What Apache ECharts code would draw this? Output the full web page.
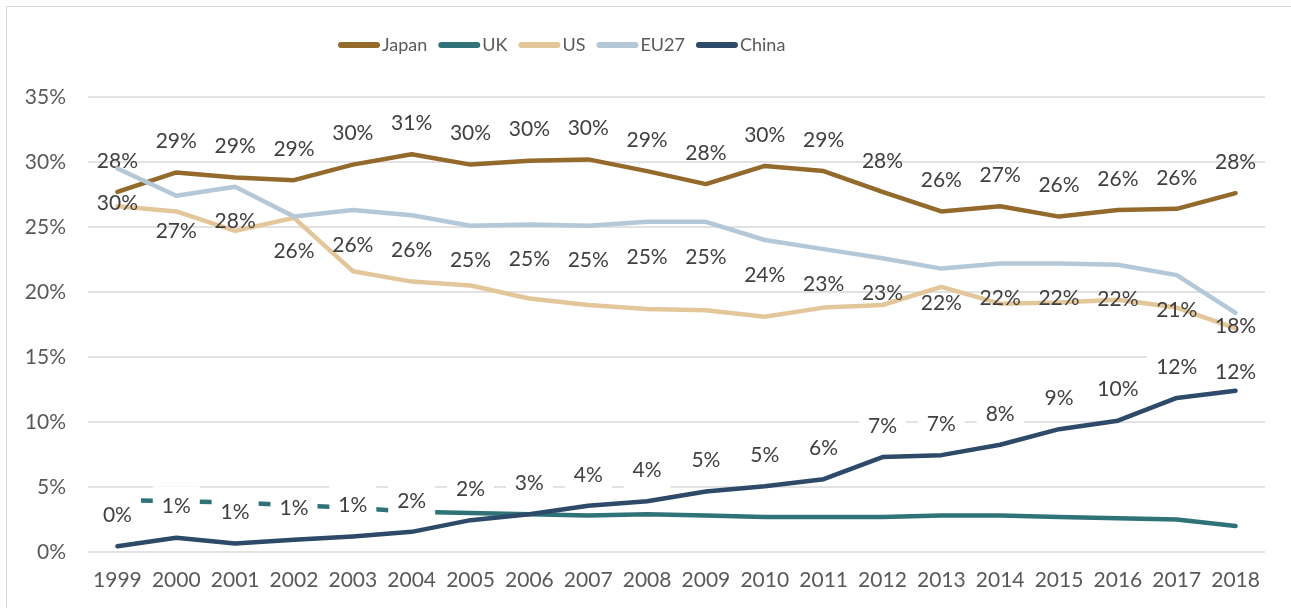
<!DOCTYPE html>
<html>
<head>
<meta charset="utf-8">
<script src="https://cdn.jsdelivr.net/npm/echarts@6/dist/echarts.min.js"></script>
<style>
  html, body { margin: 0; padding: 0; background: #fff; overflow: hidden; }
  #frame { position: absolute; left: 6px; top: 6px; width: 1400px; height: 700px; border: 1px solid #d9d9d9; }
  #chart { position: absolute; left: 0; top: 0; width: 1291px; height: 608px; }
</style>
</head>
<body>
<div id="frame"></div>
<div id="chart"></div>
<script>
// data (percent)
var years = ['1999', '2000', '2001', '2002', '2003', '2004', '2005', '2006', '2007', '2008',
             '2009', '2010', '2011', '2012', '2013', '2014', '2015', '2016', '2017', '2018'];
var japan = [27.7, 29.2, 28.8, 28.6, 29.8, 30.6, 29.8, 30.1, 30.2, 29.3,
             28.3, 29.7, 29.3, 27.7, 26.2, 26.6, 25.8, 26.3, 26.4, 27.6];
var uk    = [4.0, 3.9, 3.8, 3.6, 3.4, 3.1, 3.0, 2.9, 2.8, 2.9,
             2.8, 2.7, 2.7, 2.7, 2.8, 2.8, 2.7, 2.6, 2.5, 2.0];
var us    = [26.6, 26.2, 24.7, 25.7, 21.6, 20.8, 20.5, 19.5, 19.0, 18.7,
             18.6, 18.1, 18.8, 19.0, 20.4, 19.1, 19.2, 19.4, 18.8, 17.2];
var eu27  = [29.5, 27.4, 28.1, 25.8, 26.3, 25.9, 25.1, 25.2, 25.1, 25.4,
             25.4, 24.0, 23.3, 22.6, 21.8, 22.2, 22.2, 22.1, 21.3, 18.4];
var china = [0.45, 1.1, 0.65, 0.95, 1.2, 1.55, 2.45, 2.9, 3.55, 3.9,
             4.65, 5.05, 5.6, 7.3, 7.45, 8.25, 9.45, 10.1, 11.85, 12.4];
var yTicks = [0, 5, 10, 15, 20, 25, 30, 35];

var font = 'Lato';
var pct = function (p) { return Math.round(p.value) + '%'; };

function lineSeries(name, data, color, z) {
  return {
    name: name,
    type: 'line',
    data: data,
    z: z,
    symbol: 'circle',
    symbolSize: 1,
    showSymbol: true,
    itemStyle: { color: color },
    lineStyle: { color: color, width: 4.5, cap: 'round', join: 'round' },
    emphasis: { disabled: true },
    label: { show: false }
  };
}

// last point gets its own label offset (label nudged like in the original)
function withLastOffset(arr, offset) {
  return arr.map(function (v, i) {
    return i === arr.length - 1 ? { value: v, label: { offset: offset } } : v;
  });
}

var labelBase = {
  show: true,
  position: 'inside',
  formatter: pct,
  color: '#404040',
  fontFamily: font,
  fontSize: 21
};

var sJapan = lineSeries('Japan', japan, '#946a2c', 2);
sJapan.label = Object.assign({}, labelBase, { offset: [0, -31] });

var sUk = lineSeries('UK', uk, '#2f7378', 2);
var sUs = lineSeries('US', us, '#e3c699', 2);

var sEu = lineSeries('EU27', withLastOffset(eu27, [0, 13]), '#b5c8d7', 4);
sEu.label = Object.assign({}, labelBase, { offset: [0, 35] });

// China: the line on top, its white-boxed labels in a separate layer under it
var sChina = lineSeries('China', china, '#2d4a68', 5);

var sChinaLabels = lineSeries('China labels', withLastOffset(china, [0, -19]), 'rgba(0,0,0,0)', 3);
sChinaLabels.lineStyle = { width: 0, color: 'rgba(0,0,0,0)' };
sChinaLabels.label = Object.assign({}, labelBase, {
  offset: [0, -31],
  backgroundColor: '#ffffff',
  padding: [10, 9]
});

var chart = echarts.init(document.getElementById('chart'));
chart.setOption({
  animation: false,
  textStyle: { fontFamily: font },
  legend: {
    left: 333,
    top: 31,
    itemWidth: 42,
    itemHeight: 6,
    itemGap: 11,
    icon: 'path://M3,0 H39 A3,3 0 0 1 39,6 H3 A3,3 0 0 1 3,0 Z',
    textStyle: { color: '#595959', fontFamily: font, fontSize: 18, padding: [0, 0, 0, -3] },
    data: ['Japan', 'UK', 'US', 'EU27', 'China']
  },
  grid: { left: 88, right: 26, top: 97, bottom: 56, containLabel: false },
  xAxis: {
    type: 'category',
    data: years,
    boundaryGap: true,
    axisLine: { show: false },
    axisTick: { show: false },
    axisLabel: { interval: 0, color: '#595959', fontFamily: font, fontSize: 21, margin: 18 }
  },
  yAxis: {
    type: 'value',
    min: yTicks[0],
    max: yTicks[yTicks.length - 1],
    interval: 5,
    axisLine: { show: false },
    axisTick: { show: false },
    axisLabel: { color: '#595959', fontFamily: font, fontSize: 21, margin: 22, formatter: '{value}%' },
    splitLine: { lineStyle: { color: '#d9d9d9', width: 1.5 } }
  },
  series: [sJapan, sUk, sUs, sEu, sChinaLabels, sChina]
});
</script>
</body>
</html>
